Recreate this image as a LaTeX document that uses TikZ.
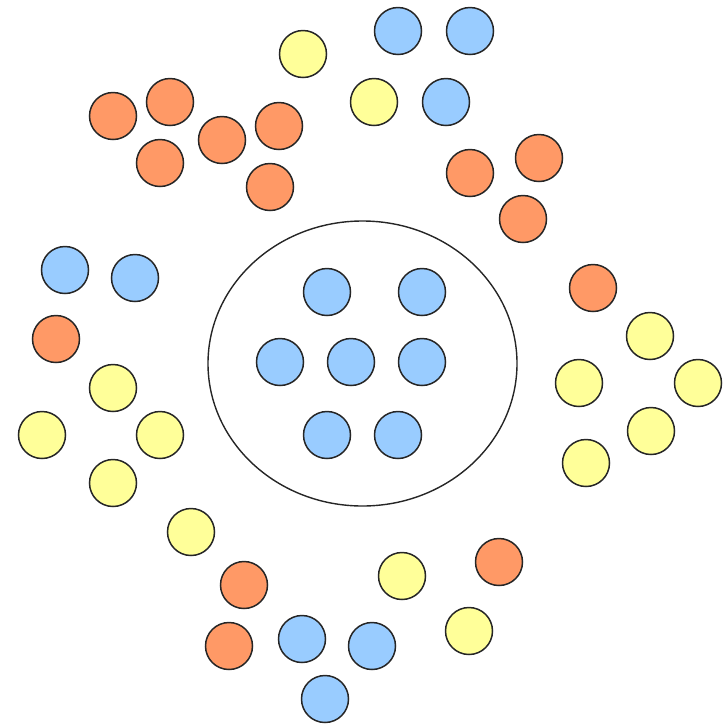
\documentclass[tikz,border=0pt]{standalone}
\usepackage{tikz}
\usetikzlibrary{positioning}
\usepackage{xcolor}
\definecolor{ballblue}{HTML}{99CCFF}
\definecolor{ballyellow}{HTML}{FFFF99}
\definecolor{ballorange}{HTML}{FF9966}
\tikzset{
  ball/.style={circle,draw=black!85,line width=1.5pt,minimum size=47pt,inner sep=0pt,outer sep=0pt},
  blueball/.style={ball,fill=ballblue},
  yellowball/.style={ball,fill=ballyellow},
  orangeball/.style={ball,fill=ballorange}
}

\begin{document}
\begin{tikzpicture}[x=1pt,y=-1pt]
  \useasboundingbox (0,0) rectangle (728,724);
  \coordinate (C) at (362.5,363.5);
  % the group
  \draw[black!85,line width=1.4pt] (C) ellipse (154.5 and 142.5);
  \foreach \x/\y [count=\i] in {327/292,422/292,280/362,351/362,422/362,327/435,398/435}
    \node[blueball] (in\i) at (\x,\y) {};
  % the crowd
  \foreach \x/\y [count=\i] in {398/31,470/31,446/102,65/270,135/278,302/639,372/646,325/699}
    \node[blueball] (blue\i) at (\x,\y) {};
  \foreach \x/\y [count=\i] in {303/54,374/102,113/388,42/435,160/435,113/483,191/532,
      650/336,579/383,698/383,651/431,586/463,402/576,469/631}
    \node[yellowball] (yellow\i) at (\x,\y) {};
  \foreach \x/\y [count=\i] in {113/116,170/102,160/163,222/140,279/126,270/187,
      470/173,539/158,523/219,56/339,593/288,244/585,229/646,499/562}
    \node[orangeball] (orange\i) at (\x,\y) {};
\end{tikzpicture}
\end{document}
